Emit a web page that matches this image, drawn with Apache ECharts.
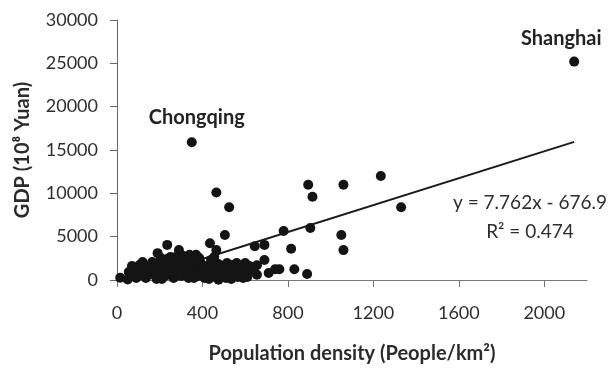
<!DOCTYPE html>
<html>
<head>
<meta charset="utf-8">
<script src="https://cdn.jsdelivr.net/npm/echarts@6/dist/echarts.min.js"></script>
<style>html,body{margin:0;padding:0;background:#fff}#c{width:610px;height:370px}</style>
</head>
<body>
<div id="c"></div>
<script>
// Population density (People/km2) and GDP (10^8 Yuan) per city
var density = [2140, 350, 465, 525, 505, 895, 915, 1060, 1235, 1330, 780, 905, 1050, 1060, 815, 760, 830, 890,
  645, 690, 690, 655, 655, 710, 740, 585, 560, 515, 505, 545, 575, 435, 465, 235, 190, 290, 300, 340, 370, 15, 50,
  80, 90, 105, 115, 125, 135, 150, 160, 175, 185, 200, 205, 215, 225, 235, 245, 255, 265, 275, 280, 290, 300, 315,
  325, 335, 350, 360, 365, 380, 390, 400, 410, 425, 435, 440, 450, 460, 475, 485, 500, 510, 520, 530, 555, 565,
  595, 610, 630, 100, 165, 250, 310, 385, 455, 430, 330, 210, 600, 620,
  70, 120, 140, 190, 200, 230, 260, 280, 295, 320, 345, 360, 375, 405, 420, 445, 470, 490, 515, 540, 575, 590,
  85, 55, 370, 330, 275, 205, 535, 475];
var gdp = [25200, 15900, 10100, 8400, 5200, 11000, 9600, 11000, 12000, 8400, 5650, 6000, 5200, 3450, 3600, 1250, 1250, 700,
  3900, 4050, 2300, 1700, 600, 800, 1250, 1500, 1950, 1950, 800, 900, 1150, 4250, 3450, 4050, 3100, 3450, 2650, 2900, 2900, 250, 50,
  920, 230, 1730, 580, 1150, 230, 1600, 690, 1150, 120, 2080, 920, 1620, 460, 2420, 1150, 1730, 230, 2080, 920, 1380, 460, 2080,
  1150, 230, 1730, 810, 1380, 460, 2080, 1150, 230, 1620, 810, 2310, 1150, 350, 1850, 920, 1380, 230, 1620, 690, 1380, 350,
  1040, 350, 1150, 1150, 2080, 2650, 2770, 2540, 2650, 120, 690, 120, 1960, 1620,
  1620, 2080, 920, 1620, 350, 1150, 810, 1500, 2080, 1620, 1150, 230, 1850, 1620, 690, 1620, 1380, 350, 1150, 1730, 690, 230,
  460, 920, 2310, 2310, 2650, 2540, 120, 30];
var labelled = {0: 'Shanghai', 1: 'Chongqing'};
var yTicks = [0, 5000, 10000, 15000, 20000, 25000, 30000];
var xTicks = [0, 400, 800, 1200, 1600, 2000];
var slope = 7.762, intercept = -676.9;

var FONT = 'Lato';
var pts = density.map(function (x, i) {
  var item = {value: [x, gdp[i]]};
  if (labelled[i] === 'Shanghai') {
    item.label = {show: true, formatter: 'Shanghai', position: 'top', offset: [-13, -3]};
  } else if (labelled[i] === 'Chongqing') {
    item.label = {show: true, formatter: 'Chongqing', position: 'top', offset: [5, -5]};
  }
  return item;
});
var maxX = Math.max.apply(null, density);
var trend = [[-intercept / slope, 0], [maxX, slope * maxX + intercept]];
var plain = function (v) { return String(v); };

var chart = echarts.init(document.getElementById('c'), null, {renderer: 'canvas'});
chart.setOption({
  animation: false,
  backgroundColor: '#fff',
  textStyle: {fontFamily: FONT},
  grid: {left: 117, right: 23, top: 20, bottom: 90, containLabel: false},
  xAxis: {
    type: 'value', min: 0, max: 2200, interval: 400,
    name: 'Population density (People/km²)', nameLocation: 'middle', nameGap: 64,
    nameTextStyle: {fontFamily: FONT, fontSize: 20, fontWeight: 'bold', color: '#2b2b2b'},
    axisLine: {show: true, lineStyle: {color: '#777', width: 1}},
    axisTick: {show: true, inside: false, length: 7, lineStyle: {color: '#777'}, customValues: xTicks},
    axisLabel: {fontFamily: FONT, fontSize: 18, color: '#2e2e2e', margin: 24, customValues: xTicks, formatter: plain},
    splitLine: {show: false}
  },
  yAxis: {
    type: 'value', min: 0, max: 30000, interval: 5000,
    name: 'GDP (10⁸ Yuan)', nameLocation: 'middle', nameGap: 84, nameRotate: 90,
    nameTextStyle: {fontFamily: FONT, fontSize: 20, fontWeight: 'bold', color: '#2b2b2b'},
    axisLine: {show: true, lineStyle: {color: '#666', width: 1}},
    axisTick: {show: true, inside: false, length: 7, lineStyle: {color: '#666'}, customValues: yTicks},
    axisLabel: {fontFamily: FONT, fontSize: 18, color: '#2e2e2e', margin: 19, customValues: yTicks, formatter: plain},
    splitLine: {show: false}
  },
  series: [
    {
      type: 'line', data: trend, symbol: 'none', silent: true, z: 1,
      lineStyle: {color: '#1a1a1a', width: 2}
    },
    {
      type: 'scatter', data: pts, symbol: 'circle', symbolSize: 10, z: 2,
      itemStyle: {color: '#141414', opacity: 1},
      label: {fontFamily: FONT, fontSize: 20, fontWeight: 'bold', color: '#222'}
    }
  ],
  graphic: [
    {type: 'text', x: 530, y: 203, style: {text: 'y = 7.762x - 676.9', font: '19px ' + FONT, fill: '#2e2e2e', textAlign: 'center', textVerticalAlign: 'middle'}},
    {type: 'text', x: 530, y: 232, style: {text: 'R² = 0.474', font: '19px ' + FONT, fill: '#2e2e2e', textAlign: 'center', textVerticalAlign: 'middle'}}
  ]
});
</script>
</body>
</html>
